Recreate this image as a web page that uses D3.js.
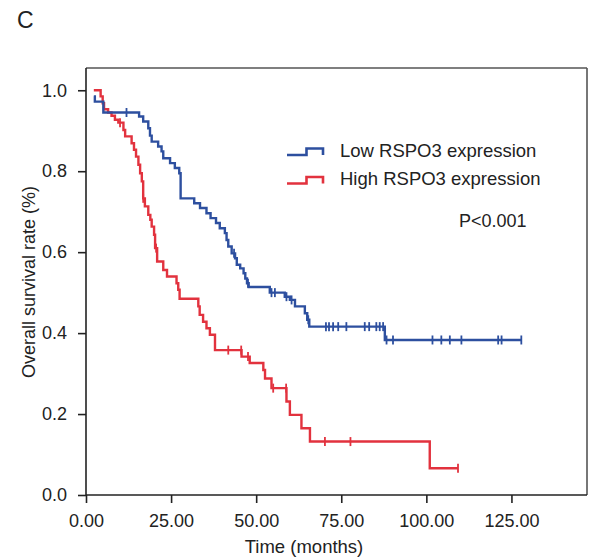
<!DOCTYPE html>
<html>
<head>
<meta charset="utf-8">
<script src="https://cdn.jsdelivr.net/npm/d3@7"></script>
<style>
  body { margin: 0; background: #fff; }
  svg text { font-family: "Liberation Sans", Arial, sans-serif; fill: #222; }
</style>
</head>
<body>
<div id="chart"></div>
<script>
// Kaplan-Meier steps (time in months, survival after the step)
const lowTime = [2.3, 2.6, 5.1, 15.6, 16.8, 18.3, 18.8, 19.3, 21.2, 22.2, 22.7, 24.7, 26.1, 27.4, 27.8, 31.8, 33.5, 35.4, 36.6, 38.2,
  39.3, 40.8, 41.3, 41.8, 42.8, 43.8, 44.3, 45.3, 46.3, 46.8, 47.3, 47.8, 54.0, 58.4, 59.9, 61.4, 64.3, 65.0, 65.6, 87.8, 127.9]
const lowSurv = [0.985, 0.972, 0.945, 0.935, 0.923, 0.906, 0.888, 0.873, 0.861, 0.849, 0.832, 0.820, 0.808, 0.795, 0.733, 0.721, 0.709, 0.696, 0.684, 0.672,
  0.659, 0.647, 0.630, 0.614, 0.597, 0.585, 0.569, 0.560, 0.548, 0.535, 0.523, 0.514, 0.500, 0.490, 0.482, 0.466, 0.449, 0.433, 0.416, 0.383, 0.383]
const lowCensor = [11.9, 43.5, 47.6, 54.5, 55.5, 58.9, 60.4, 65.3, 70.5, 71.4, 72.6, 74.1, 76.5, 81.9, 83.2, 85.3, 86.3, 87.3,
  88.3, 90.2, 101.8, 104.4, 106.9, 110.3, 121.1, 122.1, 127.9]

const highTime = [2.3, 4.3, 4.9, 5.3, 6.5, 7.5, 8.5, 9.5, 11.0, 11.5, 13.4, 14.1, 14.7, 15.4, 15.9, 16.4, 16.8, 17.3, 18.3, 18.9,
  19.3, 20.0, 20.3, 20.9, 22.7, 23.8, 26.6, 27.1, 27.5, 33.0, 33.4, 34.4, 35.4, 36.4, 37.9, 45.7, 48.1, 52.1, 52.6, 54.5,
  58.9, 59.9, 63.3, 65.8, 101.0, 109.3]
const highSurv = [1.0, 0.985, 0.968, 0.953, 0.945, 0.937, 0.927, 0.920, 0.902, 0.886, 0.869, 0.853, 0.836, 0.816, 0.795, 0.775, 0.733, 0.713, 0.692, 0.680,
  0.663, 0.643, 0.610, 0.577, 0.556, 0.540, 0.523, 0.507, 0.485, 0.466, 0.445, 0.428, 0.412, 0.396, 0.358, 0.342, 0.326, 0.309, 0.288, 0.264,
  0.231, 0.198, 0.165, 0.132, 0.066, 0.066]
const highCensor = [10.0, 16.8, 20.6, 41.8, 45.6, 47.6, 55.0, 58.8, 70.2, 77.7, 109.3]

const xTicks = [0, 25, 50, 75, 100, 125]
const yTicks = [0, 0.2, 0.4, 0.6, 0.8, 1.0]
const seriesNames = ['Low RSPO3 expression', 'High RSPO3 expression']

const blue = '#2d4f9f'
const red = '#e2323e'
const width = 592, height = 559
const margin = { top: 68, right: 5, bottom: 64, left: 86 }
const innerW = width - margin.left - margin.right
const innerH = height - margin.top - margin.bottom

var svg = d3.select('#chart').append('svg').attr('width', width).attr('height', height)
var g = svg.append('g').attr('transform', `translate(${margin.left},${margin.top})`)

var x = d3.scaleLinear().domain([0, 147.2]).range([0, innerW])
var y = d3.scaleLinear().domain([0, 1.055]).range([innerH, 0])

// panel letter
svg.append('text').attr('x', 17).attr('y', 28).style('font-size', '23px').text('C')

// frame top / right
g.append('line').attr('x1', 0).attr('x2', innerW).attr('y1', 0).attr('y2', 0)
  .attr('stroke', '#555').attr('stroke-width', 1.6)
g.append('line').attr('x1', innerW).attr('x2', innerW).attr('y1', 0).attr('y2', innerH)
  .attr('stroke', '#555').attr('stroke-width', 1.6)

var xAxis = g.append('g').attr('transform', `translate(0,${innerH})`)
  .call(d3.axisBottom(x).tickValues(xTicks).tickFormat(d3.format('.2f')).tickSize(8).tickPadding(11).tickSizeOuter(0))
var yAxis = g.append('g')
  .call(d3.axisLeft(y).tickValues(yTicks).tickFormat(d3.format('.1f')).tickSize(8).tickPadding(11).tickSizeOuter(0))

;[xAxis, yAxis].forEach(function (a) {
  a.select('.domain').attr('stroke', '#222').attr('stroke-width', 1.6)
  a.selectAll('.tick line').attr('stroke', '#222').attr('stroke-width', 1.6)
  a.selectAll('.tick text').style('font-size', '18px').attr('fill', '#222')
})
// axis domains reach the full frame
xAxis.select('.domain').attr('d', `M0,0H${innerW}`)
yAxis.select('.domain').attr('d', `M0,0V${innerH}`)

svg.append('text').attr('x', 304).attr('y', 553).attr('text-anchor', 'middle')
  .style('font-size', '18.5px').text('Time (months)')
svg.append('text').attr('transform', 'translate(35,282) rotate(-90)').attr('text-anchor', 'middle')
  .style('font-size', '18px').text('Overall survival rate (%)')

var lineGenerator = d3.line().curve(d3.curveStepAfter)
  .x(function (d) { return x(d.t) })
  .y(function (d) { return y(d.s) })

function survAt(times, surv, t) {
  let s = surv[0]
  for (let i = 0; i < times.length; i++) { if (times[i] <= t) s = surv[i] }
  return s
}

function drawCurve(times, surv, censor, color) {
  var pts = times.map(function (t, i) { return { t: t, s: surv[i] } })
  g.append('path').attr('d', lineGenerator(pts))
    .attr('fill', 'none').attr('stroke', color).attr('stroke-width', 2.4)
  g.selectAll(null).data(censor).enter().append('line')
    .attr('x1', function (d) { return x(d) }).attr('x2', function (d) { return x(d) })
    .attr('y1', function (d) { return y(survAt(times, surv, d)) - 4.5 })
    .attr('y2', function (d) { return y(survAt(times, surv, d)) + 4.5 })
    .attr('stroke', color).attr('stroke-width', 1.8)
}

drawCurve(highTime, highSurv, highCensor, red)
drawCurve(lowTime, lowSurv, lowCensor, blue)

// legend
var legend = svg.append('g')
;[blue, red].forEach(function (c, i) {
  var yy = 155 + i * 28.5
  legend.append('path')
    .attr('d', `M287,${yy}H306.5V${yy - 6.5}H323V${yy}`)
    .attr('fill', 'none').attr('stroke', c).attr('stroke-width', 2.6)
  legend.append('text').attr('x', 340).attr('y', yy + 1.5)
    .style('font-size', '18.5px').text(seriesNames[i])
})
svg.append('text').attr('x', 459).attr('y', 227).style('font-size', '18px').text('P<0.001')
</script>
</body>
</html>
